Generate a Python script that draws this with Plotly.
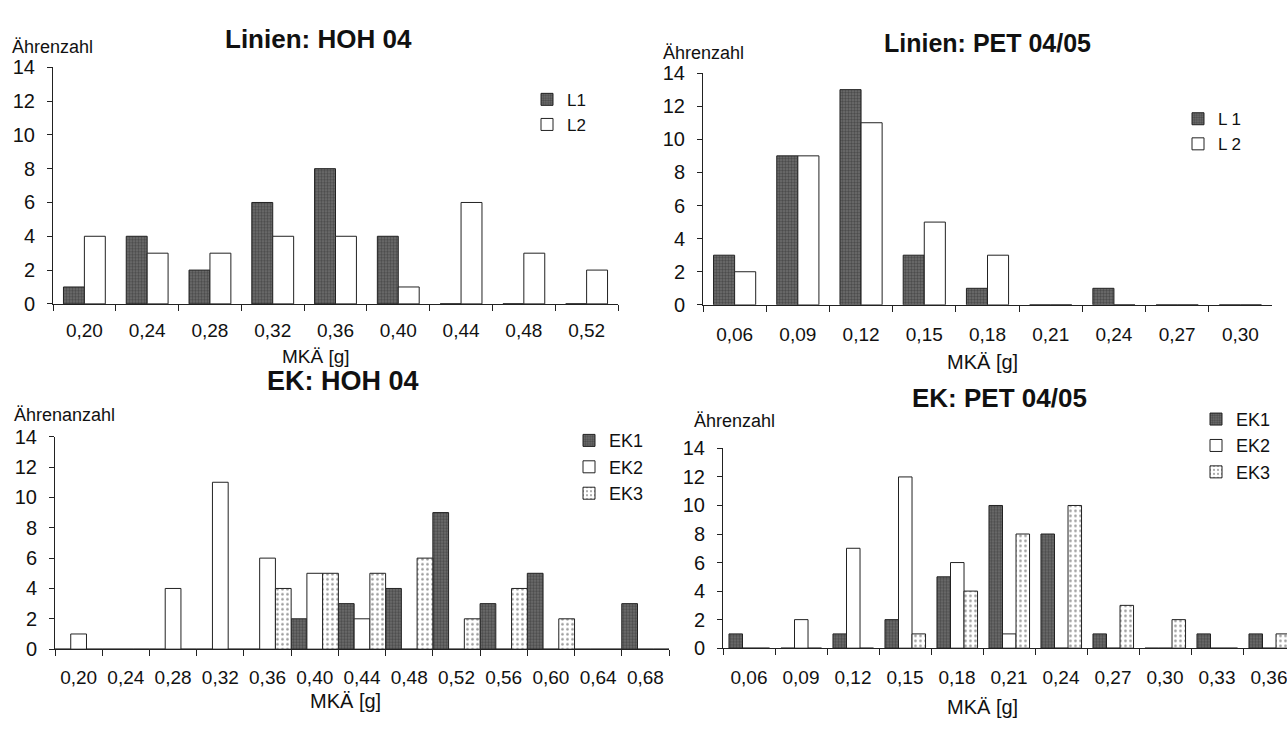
import plotly.graph_objects as go

W, H = 1287, 729

# ---------------- data ----------------
hoh_lin_cats = ["0,20", "0,24", "0,28", "0,32", "0,36", "0,40", "0,44", "0,48", "0,52"]
hoh_L1 = [1, 4, 2, 6, 8, 4, 0, 0, 0]
hoh_L2 = [4, 3, 3, 4, 4, 1, 6, 3, 2]

pet_lin_cats = ["0,06", "0,09", "0,12", "0,15", "0,18", "0,21", "0,24", "0,27", "0,30"]
pet_L1 = [3, 9, 13, 3, 1, 0, 1, 0, 0]
pet_L2 = [2, 9, 11, 5, 3, 0, 0, 0, 0]

hoh_ek_cats = ["0,20", "0,24", "0,28", "0,32", "0,36", "0,40", "0,44",
               "0,48", "0,52", "0,56", "0,60", "0,64", "0,68"]
hoh_EK1 = [0, 0, 0, 0, 0, 2, 3, 4, 9, 3, 5, 0, 3]
hoh_EK2 = [1, 0, 4, 11, 6, 5, 2, 0, 0, 0, 0, 0, 0]
hoh_EK3 = [0, 0, 0, 0, 4, 5, 5, 6, 2, 4, 2, 0, 0]

pet_ek_cats = ["0,06", "0,09", "0,12", "0,15", "0,18", "0,21", "0,24",
               "0,27", "0,30", "0,33", "0,36"]
pet_EK1 = [1, 0, 1, 2, 5, 10, 8, 1, 0, 1, 1]
pet_EK2 = [0, 2, 7, 12, 6, 1, 0, 0, 0, 0, 0]
pet_EK3 = [0, 0, 0, 1, 4, 8, 10, 3, 2, 0, 1]

y_ticks = [0, 2, 4, 6, 8, 10, 12, 14]

# ---------------- styles ----------------
FONT = "Liberation Sans, Arial, sans-serif"
LINE = "#222222"

dark = dict(color="#666666", line=dict(color=LINE, width=1),
            pattern=dict(shape=".", bgcolor="#707070", fgcolor="#262626", size=3, solidity=0.5))
white = dict(color="white", line=dict(color=LINE, width=1))
dotted = dict(color="white", line=dict(color=LINE, width=1),
              pattern=dict(shape=".", bgcolor="white", fgcolor="#333333", size=5, solidity=0.22))


def px(x):
    return x / W


def py(y):
    return 1 - y / H


fig = go.Figure()


def add_bar(x, y, name, marker, xa, ya, legend, offset, width):
    fig.add_trace(go.Bar(x=x, y=y, name=name, marker=marker, xaxis=xa, yaxis=ya,
                         legend=legend, offset=offset, width=width, hoverinfo="x+y+name"))


# panel 1
add_bar(hoh_lin_cats, hoh_L1, "L1", dark, "x", "y", "legend", -1/3, 1/3)
add_bar(hoh_lin_cats, hoh_L2, "L2", white, "x", "y", "legend", 0, 1/3)
# panel 2
add_bar(pet_lin_cats, pet_L1, "L 1", dark, "x2", "y2", "legend2", -1/3, 1/3)
add_bar(pet_lin_cats, pet_L2, "L 2", white, "x2", "y2", "legend2", 0, 1/3)
# panel 3
add_bar(hoh_ek_cats, hoh_EK1, "EK1", dark, "x3", "y3", "legend3", -0.5, 1/3)
add_bar(hoh_ek_cats, hoh_EK2, "EK2", white, "x3", "y3", "legend3", -1/6, 1/3)
add_bar(hoh_ek_cats, hoh_EK3, "EK3", dotted, "x3", "y3", "legend3", 1/6, 1/3)
# panel 4
add_bar(pet_ek_cats, pet_EK1, "EK1", dark, "x4", "y4", "legend4", -0.385, 0.26)
add_bar(pet_ek_cats, pet_EK2, "EK2", white, "x4", "y4", "legend4", -0.125, 0.26)
add_bar(pet_ek_cats, pet_EK3, "EK3", dotted, "x4", "y4", "legend4", 0.135, 0.26)


def xaxis(x0, x1, cats, rng, anchor, standoff):
    return dict(domain=[px(x0), px(x1)], type="category", categoryorder="array",
                categoryarray=cats, range=rng, showline=True, linecolor=LINE, linewidth=1,
                ticks="outside", tickson="boundaries", ticklen=6, tickcolor=LINE,
                tickfont=dict(family=FONT, size=19, color="#111"), ticklabelstandoff=standoff,
                anchor=anchor, showgrid=False, zeroline=False, fixedrange=True)


def yaxis(y0, y14, anchor):
    return dict(domain=[py(y0), py(y14)], range=[0, 14], tickvals=y_ticks,
                showline=True, linecolor=LINE, linewidth=1, ticks="outside", ticklen=5,
                tickcolor=LINE, tickfont=dict(family=FONT, size=20, color="#111"),
                ticklabelstandoff=8, anchor=anchor, showgrid=False, zeroline=False,
                fixedrange=True)


def legend(x, ytop, size):
    return dict(x=px(x), y=py(ytop), xanchor="left", yanchor="top",
                font=dict(family=FONT, size=size, color="#111"), bgcolor="rgba(0,0,0,0)",
                itemwidth=30, tracegroupgap=0)


layout = dict(
    width=W, height=H, margin=dict(l=0, r=0, t=0, b=0),
    paper_bgcolor="white", plot_bgcolor="white",
    barmode="overlay", font=dict(family=FONT, color="#111"),
    xaxis=xaxis(53, 618, hoh_lin_cats, [-0.5, 8.5], "y", 9),
    yaxis=yaxis(302, 58, "x"),
    xaxis2=xaxis(703, 1272, pet_lin_cats, [-0.5, 8.5], "y2", 12),
    yaxis2=yaxis(303, 64, "x2"),
    xaxis3=xaxis(55, 669, hoh_ek_cats, [-0.5, 12.5], "y3", 11),
    yaxis3=yaxis(658, 439, "x3"),
    xaxis4=xaxis(723, 1287, pet_ek_cats, [-0.5, -0.5 + 564 / 52.0], "y4", 12),
    yaxis4=yaxis(657, 451, "x4"),
    legend=legend(527, 73, 17),
    legend2=legend(1178, 93, 17),
    legend3=legend(569, 424, 18),
    legend4=legend(1196, 402, 18),
)
fig.update_layout(**layout)

ann = []


def text(x, y, s, size, bold=False, xanchor="center"):
    ann.append(dict(x=px(x), y=py(y), xref="paper", yref="paper", text=f"<b>{s}</b>" if bold else s,
                    showarrow=False, xanchor=xanchor, yanchor="middle",
                    font=dict(family=FONT, size=size, color="#111")))


# titles
text(318, 29, "Linien: HOH 04", 26, True)
text(987, 33, "Linien: PET 04/05", 25, True)
text(343, 381, "EK: HOH 04", 27, True)
text(999, 399, "EK: PET 04/05", 26, True)
# y labels
text(10, 37, "Ährenzahl", 18, xanchor="left")
text(661, 43, "Ährenzahl", 18, xanchor="left")
text(12, 417, "Ährenanzahl", 18, xanchor="left")
text(692, 423, "Ährenzahl", 18, xanchor="left")
# x titles
text(316, 356, "MKÄ [g]", 19)
text(982, 362, "MKÄ [g]", 20)
text(345, 711, "MKÄ [g]", 20)
text(982, 718, "MKÄ [g]", 20)

fig.update_layout(annotations=ann)

fig.write_html("out.html")
